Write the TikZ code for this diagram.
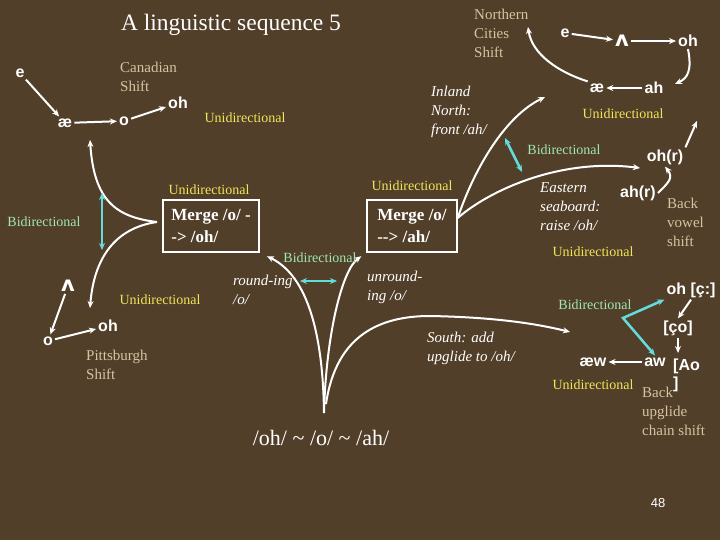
\documentclass[tikz,border=0pt]{standalone}
\usepackage{fontspec}
\setmainfont{Liberation Serif}
\setsansfont{Liberation Sans}
\newfontfamily\ipafont{DejaVu Sans}
\usetikzlibrary{arrows.meta}
\definecolor{bgbrown}{RGB}{82,63,41}
\definecolor{tanc}{RGB}{215,195,160}
\definecolor{uniyellow}{RGB}{240,230,90}
\definecolor{bigreen}{RGB}{160,230,180}
\definecolor{bicyan}{RGB}{100,220,220}

\begin{document}
\begin{tikzpicture}[x=1pt,y=-1pt,
    >={Stealth[length=7pt,width=6pt]},
    vowel/.style={font=\sffamily\bfseries\fontsize{16}{18}\selectfont,text=white,inner sep=2pt},
    wedge/.style={font=\ipafont\bfseries\fontsize{21}{22}\selectfont,text=white,inner sep=2pt},
    shiftname/.style={font=\fontsize{15}{19}\selectfont,text=tanc,align=left,anchor=west,inner sep=0pt},
    uni/.style={font=\fontsize{14}{17}\selectfont,text=uniyellow,inner sep=0pt},
    bi/.style={font=\fontsize{14}{17}\selectfont,text=bigreen,inner sep=0pt},
    change/.style={font=\itshape\fontsize{15}{19}\selectfont,text=white,align=left,anchor=west,inner sep=0pt},
    mergebox/.style={draw=white,line width=1.5pt,text=white,font=\bfseries\fontsize{17}{22}\selectfont,align=left,inner sep=5pt,minimum height=52pt},
    shiftarrow/.style={->,white,line width=2pt},
    bidir/.style={<->,bicyan,line width=2.5pt}]
    \fill[bgbrown] (0,0) rectangle (720,540);
    \useasboundingbox (0,0) rectangle (720,540);
    \node[font=\fontsize{23.5}{28}\selectfont,text=white] (title) at (231,25) {A linguistic sequence 5};

    % Canadian shift
    \node[shiftname] (canadian) at (120,77) {Canadian\\Shift};
    \node[vowel] (cE) at (20,73) {e};
    \node[vowel] (cAE) at (65,123) {æ};
    \node[vowel] (cO) at (124,121) {o};
    \node[vowel] (cOH) at (178,103) {oh};
    \draw[shiftarrow] (cE) -- (cAE);
    \draw[shiftarrow] (cAE) -- (cO);
    \draw[shiftarrow] (cO) -- (cOH);
    \node[uni] (uniCan) at (245,118) {Unidirectional};

    % merge o -> oh
    \node[mergebox,minimum width=96pt] (mergeOh) at (211,226) {Merge /o/ -\\-> /oh/};
    \node[uni] (uniMergeOh) at (209,190) {Unidirectional};
    \coordinate (pitCusp) at (157,222);
    \coordinate (toCan) at (90,140);
    \coordinate (toPit) at (90,308);
    \draw[shiftarrow] (pitCusp) .. controls (115,217) and (94,200) .. (toCan);
    \draw[shiftarrow] (pitCusp) .. controls (115,228) and (94,258) .. (toPit);
    \coordinate (pitBiTop) at (102,193);
    \coordinate (pitBiBot) at (102,250);
    \draw[bidir] (pitBiTop) -- (pitBiBot);
    \node[bi] (biPit) at (44,222) {Bidirectional};

    % Pittsburgh shift
    \node[wedge] (pWedge) at (68,286) {ʌ};
    \node[vowel] (pO) at (48,341) {o};
    \node[vowel] (pOH) at (108,326) {oh};
    \draw[shiftarrow] (pWedge) -- (pO);
    \draw[shiftarrow] (pO) -- (pOH);
    \node[uni] (uniPit) at (160,300) {Unidirectional};
    \node[shiftname] (pittsburgh) at (86,365) {Pittsburgh\\Shift};

    % merge o -> ah
    \node[mergebox,minimum width=90pt] (mergeAh) at (412,226) {Merge /o/\\{-}{-}> /ah/};
    \node[uni] (uniMergeAh) at (412,186) {Unidirectional};

    % central funnel
    \coordinate (funnelBase) at (324,413);
    \draw[shiftarrow,shorten >=8pt] (funnelBase) .. controls (323,335) and (308,276) .. (mergeOh.south east);
    \draw[shiftarrow,shorten >=6pt] (funnelBase) .. controls (326,335) and (342,270) .. (mergeAh.south west);
    \coordinate (southTip) at (570,332);
    \draw[shiftarrow] (326,404) .. controls (336,335) and (380,316) .. (430,316)
        .. controls (485,317) and (530,322) .. (southTip);
    \coordinate (roundBiL) at (300,281);
    \coordinate (roundBiR) at (337,281);
    \draw[bidir] (roundBiL) -- (roundBiR);
    \node[bi] (biRound) at (320,258) {Bidirectional};
    \node[change] (rounding) at (233,290) {round-ing\\/o/};
    \node[change] (unrounding) at (367,287) {unround-\\ing /o/};
    \node[change] (south) at (427,348) {South: add\\upglide to /oh/};
    \node[font=\fontsize{22}{26}\selectfont,text=white] (sequence) at (321,438) {/oh/ \textasciitilde\ /o/ \textasciitilde\ /ah/};

    % upper right funnel
    \coordinate (inlandTip) at (545,97);
    \coordinate (easternTip) at (640,168);
    \draw[shiftarrow] (mergeAh.10) .. controls (472,175) and (502,118) .. (inlandTip);
    \draw[shiftarrow] (mergeAh.10) .. controls (490,190) and (560,158) .. (easternTip);
    \coordinate (nordBiA) at (505,138);
    \coordinate (nordBiB) at (522,172);
    \draw[bidir] (nordBiA) -- (nordBiB);
    \node[bi] (biNord) at (564,150) {Bidirectional};
    \node[change] (inland) at (431,112) {Inland\\North:\\front /ah/};
    \node[change] (eastern) at (540,207) {Eastern\\seaboard:\\raise /oh/};

    % Northern cities shift
    \node[shiftname] (northern) at (474,33) {Northern\\Cities\\Shift};
    \node[vowel] (nE) at (565,33) {e};
    \node[wedge] (nWedge) at (622,41) {ʌ};
    \node[vowel] (nOH) at (688,41) {oh};
    \node[vowel] (nAH) at (654,88) {ah};
    \node[vowel] (nAE) at (597,88) {æ};
    \draw[shiftarrow] (nE) -- (nWedge);
    \draw[shiftarrow] (nWedge) -- (nOH);
    \draw[shiftarrow] (nOH.south) .. controls (692,70) and (688,78) .. (675,84);
    \draw[shiftarrow] (nAH) -- (nAE);
    \coordinate (ncsTip) at (528,27);
    \draw[shiftarrow] (nAE.north west) .. controls (558,72) and (532,54) .. (ncsTip);
    \node[uni] (uniNord) at (623,114) {Unidirectional};

    % back vowel shift
    \node[vowel] (bOHR) at (665,157) {oh(r)};
    \node[vowel] (bAHR) at (638,193) {ah(r)};
    \coordinate (bvsTip) at (697,121);
    \draw[shiftarrow] (bOHR.north east) -- (bvsTip);
    \draw[shiftarrow] (bAHR.east) .. controls (668,183) and (674,178) .. (bOHR.south);
    \node[shiftname] (backVowel) at (667,222) {Back\\vowel\\shift};
    \node[uni] (uniBack) at (593,252) {Unidirectional};

    % back upglide chain shift
    \node[vowel] (uOH) at (691,290) {oh [ç:]};
    \node[vowel] (uCO) at (678,328) {[ço]};
    \node[vowel,align=left,anchor=west] (uAO) at (671,375) {[Ao\\]};
    \node[vowel] (uAEW) at (593,362) {æw};
    \node[vowel] (uAW) at (655,362) {aw};
    \draw[shiftarrow] (uOH.south) -- (uCO.north);
    \draw[shiftarrow] (uCO.south) -- (678,353);
    \draw[shiftarrow] (uAW) -- (uAEW);
    \coordinate (upBend) at (623,318);
    \draw[bidir] (uOH.south west) -- (upBend) -- (uAW.north);
    \node[bi] (biUp) at (595,305) {Bidirectional};
    \node[uni] (uniUp) at (593,385) {Unidirectional};
    \node[shiftname] (backUpglide) at (642,411) {Back\\upglide\\chain shift};
    \node[font=\sffamily\fontsize{13}{15}\selectfont,text=white] (slideNo) at (658,503) {48};
\end{tikzpicture}
\end{document}
